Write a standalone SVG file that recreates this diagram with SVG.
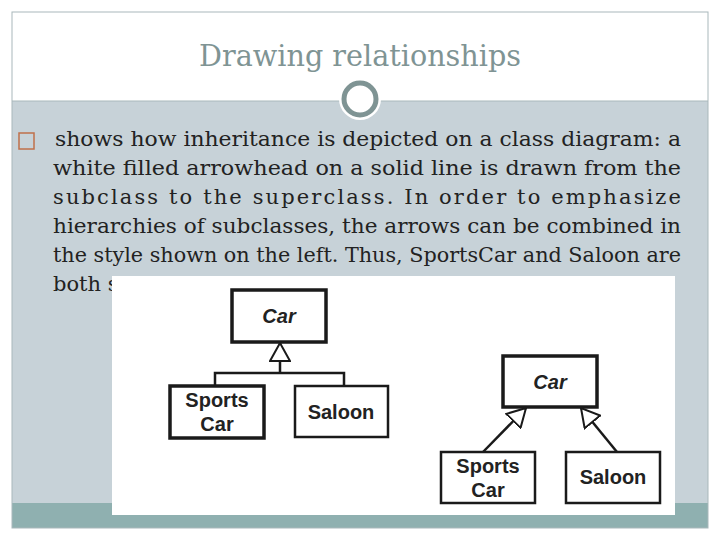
<svg xmlns="http://www.w3.org/2000/svg" width="720" height="540" viewBox="0 0 720 540">
<style>
.body{font-family:"DejaVu Serif","Liberation Serif",serif;font-size:21px;fill:#222}
.box{fill:#fff;stroke:#1a1a1a}
.lbl{font-family:"Liberation Sans",Arial,sans-serif;font-size:20px;font-weight:bold;fill:#222;text-anchor:middle}
.ln{stroke:#1a1a1a;stroke-width:2.5;fill:none}
</style>
<defs>
<marker id="tri" viewBox="0 0 20 22" refX="19" refY="11" markerWidth="20" markerHeight="22" markerUnits="userSpaceOnUse" orient="auto">
<path d="M1,1 L19,11 L1,21 Z" fill="#fff" stroke="#1a1a1a" stroke-width="2"/>
</marker>
</defs>
<rect x="0" y="0" width="720" height="540" fill="#fff"/>
<rect x="12" y="101" width="696" height="427" fill="#c7d2d8"/>
<rect x="12" y="503" width="696" height="25" fill="#8fb0b0"/>
<rect x="12" y="12" width="696" height="516" fill="none" stroke="#a9b8bb" stroke-width="1"/>
<line x1="12" y1="101" x2="708" y2="101" stroke="#a9b8bb" stroke-width="1"/>
<circle cx="360" cy="99" r="21" fill="#fff"/>
<circle cx="360" cy="99" r="16" fill="none" stroke="#7f9494" stroke-width="5"/>
<text x="360" y="66" text-anchor="middle" font-family="'DejaVu Serif','Liberation Serif',serif" font-size="29" fill="#7f9494" textLength="322" lengthAdjust="spacingAndGlyphs">Drawing relationships</text>
<rect x="19" y="133" width="15" height="16" fill="none" stroke="#c0704a" stroke-width="1.5"/>
<text class="body" x="55" y="146" textLength="626" lengthAdjust="spacingAndGlyphs">shows how inheritance is depicted on a class diagram: a</text>
<text class="body" x="53" y="175" textLength="628" lengthAdjust="spacingAndGlyphs">white filled arrowhead on a solid line is drawn from the</text>
<text class="body" x="53" y="204" textLength="628" lengthAdjust="spacing">subclass to the superclass. In order to emphasize</text>
<text class="body" x="53" y="233" textLength="628" lengthAdjust="spacingAndGlyphs">hierarchies of subclasses, the arrows can be combined in</text>
<text class="body" x="53" y="262" textLength="628" lengthAdjust="spacingAndGlyphs">the style shown on the left. Thus, SportsCar and Saloon are</text>
<text class="body" x="53" y="291">both subclasses of Car.</text>
<rect x="112" y="276" width="563" height="239" fill="#fff"/>
<g id="connectors">
<path class="ln" d="M215,386 V373 H344 V386 M280,373 V343" marker-end="url(#tri)"/>
<line class="ln" x1="483" y1="452" x2="526" y2="408" marker-end="url(#tri)"/>
<line class="ln" x1="617" y1="452" x2="581" y2="408" marker-end="url(#tri)"/>
</g>
<g id="car1"><rect class="box" x="232" y="290" width="94" height="52" stroke-width="3.5"/><text class="lbl" x="279" y="323" font-style="italic">Car</text></g>
<g id="sports1"><rect class="box" x="170" y="386" width="94" height="52" stroke-width="3.5"/><text class="lbl" x="217" y="407">Sports</text><text class="lbl" x="217" y="431">Car</text></g>
<g id="saloon1"><rect class="box" x="295" y="386" width="93" height="51" stroke-width="2.5"/><text class="lbl" x="341" y="419">Saloon</text></g>
<g id="car2"><rect class="box" x="503" y="356" width="94" height="51" stroke-width="3.5"/><text class="lbl" x="550" y="389" font-style="italic">Car</text></g>
<g id="sports2"><rect class="box" x="441" y="452" width="94" height="51" stroke-width="2.5"/><text class="lbl" x="488" y="473">Sports</text><text class="lbl" x="488" y="497">Car</text></g>
<g id="saloon2"><rect class="box" x="566" y="452" width="94" height="51" stroke-width="2.5"/><text class="lbl" x="613" y="484">Saloon</text></g>
</svg>
